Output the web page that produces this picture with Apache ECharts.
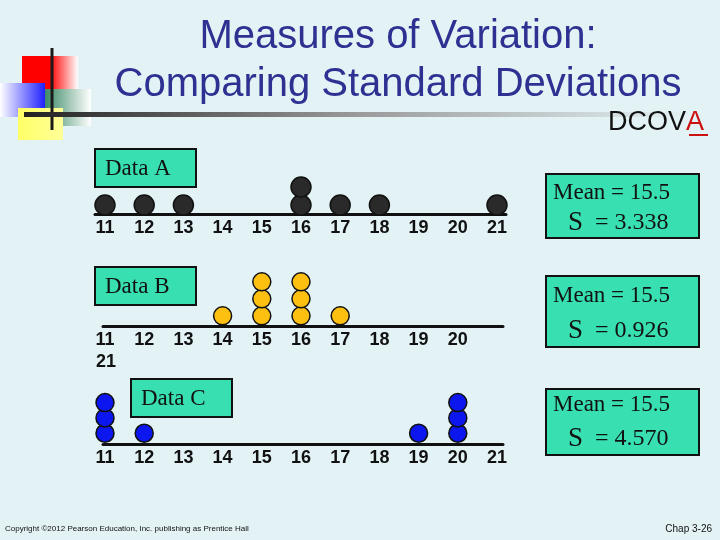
<!DOCTYPE html>
<html>
<head>
<meta charset="utf-8">
<script src="https://cdn.jsdelivr.net/npm/echarts@6/dist/echarts.min.js"></script>
<style>
  html, body { margin: 0; padding: 0; background: #e3f2f5; }
  #chart { width: 720px; height: 540px; }
</style>
</head>
<body>
<div id="chart"></div>
<script>
// tick values shared by the three dot plots
const ticks = [11, 12, 13, 14, 15, 16, 17, 18, 19, 20, 21];

// raw observations for each data set
const dataA = [11, 12, 13, 16, 16, 17, 18, 21];
const dataB = [14, 15, 15, 15, 16, 16, 16, 17];
const dataC = [11, 11, 11, 12, 19, 20, 20, 20];

// summary numbers printed in the boxes
const setNames = ["Data A", "Data B", "Data C"];
const means = ["15.5", "15.5", "15.5"];
const stdDevs = ["3.338", "0.926", "4.570"];

// dot plot: repeated values get stacked one above the other
function stackDots(values) {
  const seen = {};
  return values.map((v) => {
    seen[v] = (seen[v] || 0) + 1;
    return [v, seen[v]];
  });
}

const BOX = "#38dfb0";
const labelFont = { fontFamily: "Liberation Sans", fontWeight: "bold", fontSize: 18, color: "#111" };

function xAxisFor(grid, min, max, hideLast) {
  return {
    gridIndex: grid, type: "value", min: min, max: max,
    axisLine: { show: true, onZero: false, lineStyle: { color: "#111", width: 3 } },
    axisTick: { show: false },
    splitLine: { show: false },
    axisLabel: Object.assign({
      margin: 5,
      customValues: hideLast ? ticks.slice(0, -1) : ticks,
    }, labelFont),
  };
}

function yAxisFor(grid, min, max) {
  return { gridIndex: grid, type: "value", min: min, max: max, show: false };
}

function dotSeries(i, values, size, color) {
  return {
    type: "scatter", xAxisIndex: i, yAxisIndex: i,
    data: stackDots(values), symbolSize: size,
    itemStyle: { color: color, borderColor: "#111", borderWidth: 1.5, opacity: 1 },
    silent: true,
  };
}

function box(x, y, w, h) {
  return { type: "rect", shape: { x: x, y: y, width: w, height: h },
    style: { fill: BOX, stroke: "#111", lineWidth: 2 } };
}

function serifText(x, y, text, size) {
  return { type: "text", x: x, y: y,
    style: { text: text, fill: "#111", font: size + "px 'Liberation Serif'", textVerticalAlign: "middle" } };
}

function statText(x, y, sd) {
  return { type: "text", x: x, y: y,
    style: { text: "{s|S}{v|  = " + sd + "}", fill: "#111", textVerticalAlign: "middle",
      rich: { s: { fontFamily: "Liberation Serif", fontSize: 27, fill: "#111" },
              v: { fontFamily: "Liberation Serif", fontSize: 24, fill: "#111" } } } };
}

function grad(stops) {
  return { type: "linear", x: 0, y: 0, x2: 1, y2: 0,
    colorStops: stops.map((c, k) => ({ offset: k / (stops.length - 1), color: c })) };
}

const chart = echarts.init(document.getElementById("chart"));

chart.setOption({
  backgroundColor: "#e3f2f5",
  animation: false,
  title: {
    text: "Measures of Variation:\nComparing Standard Deviations",
    left: 393, top: 8, textAlign: "center",
    textStyle: { fontFamily: "Liberation Sans", fontSize: 40, fontWeight: "normal", color: "#2e3192", lineHeight: 48 },
  },
  grid: [
    { left: 95, top: 160, width: 411, height: 54 },
    { left: 103, top: 275, width: 400, height: 51 },
    { left: 103, top: 398, width: 400, height: 46 },
  ],
  xAxis: [
    xAxisFor(0, 10.745, 21.23, false),
    xAxisFor(1, 10.949, 21.153, true),
    xAxisFor(2, 10.949, 21.153, false),
  ],
  yAxis: [yAxisFor(0, 0.5, 3.5), yAxisFor(1, 0.4, 3.4), yAxisFor(2, 0.3, 3.3)],
  series: [
    dotSeries(0, dataA, 20, "#2a2a2a"),
    dotSeries(1, dataB, 18, "#fdc010"),
    dotSeries(2, dataC, 18, "#0c16ee"),
  ],
  graphic: [
    // corner decoration
    { type: "rect", shape: { x: 22, y: 56, width: 56, height: 46 }, style: { fill: grad(["#ff0000", "#ff0000", "#ffffff"]) } },
    { type: "rect", shape: { x: 45, y: 89, width: 46, height: 37 }, style: { fill: grad(["#3c8a66", "#ffffff"]) } },
    { type: "rect", shape: { x: 0, y: 83, width: 45, height: 34 }, style: { fill: grad(["#ffffff", "#2020ff"]) } },
    { type: "rect", shape: { x: 18, y: 108, width: 45, height: 32 }, style: { fill: grad(["#ffff66", "#ffff99"]) } },
    { type: "line", shape: { x1: 52, y1: 48, x2: 52, y2: 130 }, style: { stroke: "#1a1a1a", lineWidth: 3 } },
    { type: "rect", shape: { x: 24, y: 112, width: 666, height: 5 }, style: { fill: grad(["#222222", "#9a9a9a", "#e3f2f5"]) } },
    { type: "text", x: 608, y: 123,
      style: { text: "DCOV{a|A}", fill: "#111", font: "27px 'Liberation Sans'", textVerticalAlign: "middle",
        rich: { a: { fill: "#cc1111", fontSize: 27, fontFamily: "Liberation Sans" } } } },
    { type: "rect", shape: { x: 689, y: 134, width: 19, height: 2 }, style: { fill: "#cc1111" } },

    // data set labels
    box(95, 149, 101, 38), serifText(105, 169, setNames[0], 23),
    box(95, 267, 101, 38), serifText(105, 287, setNames[1], 23),
    box(131, 379, 101, 38), serifText(141, 399, setNames[2], 23),

    // "21" wrapped onto a second line under the Data B axis
    { type: "text", x: 96, y: 362,
      style: { text: String(ticks[ticks.length - 1]), fill: "#111", font: "bold 18px 'Liberation Sans'", textVerticalAlign: "middle" } },

    // summary boxes
    box(546, 174, 153, 64), serifText(553, 193, "Mean = " + means[0], 23), statText(568, 223, stdDevs[0]),
    box(546, 276, 153, 71), serifText(553, 296, "Mean = " + means[1], 23), statText(568, 331, stdDevs[1]),
    box(546, 389, 153, 66), serifText(553, 405, "Mean = " + means[2], 23), statText(568, 439, stdDevs[2]),

    // footer
    { type: "text", x: 5, y: 529,
      style: { text: "Copyright ©2012 Pearson Education, Inc. publishing as Prentice Hall", fill: "#111",
        font: "8px 'Liberation Sans'", textVerticalAlign: "middle" } },
    { type: "text", x: 712, y: 529,
      style: { text: "Chap 3-26", fill: "#111", font: "10px 'Liberation Sans'", textAlign: "right", textVerticalAlign: "middle" } },
  ],
});
</script>
</body>
</html>
